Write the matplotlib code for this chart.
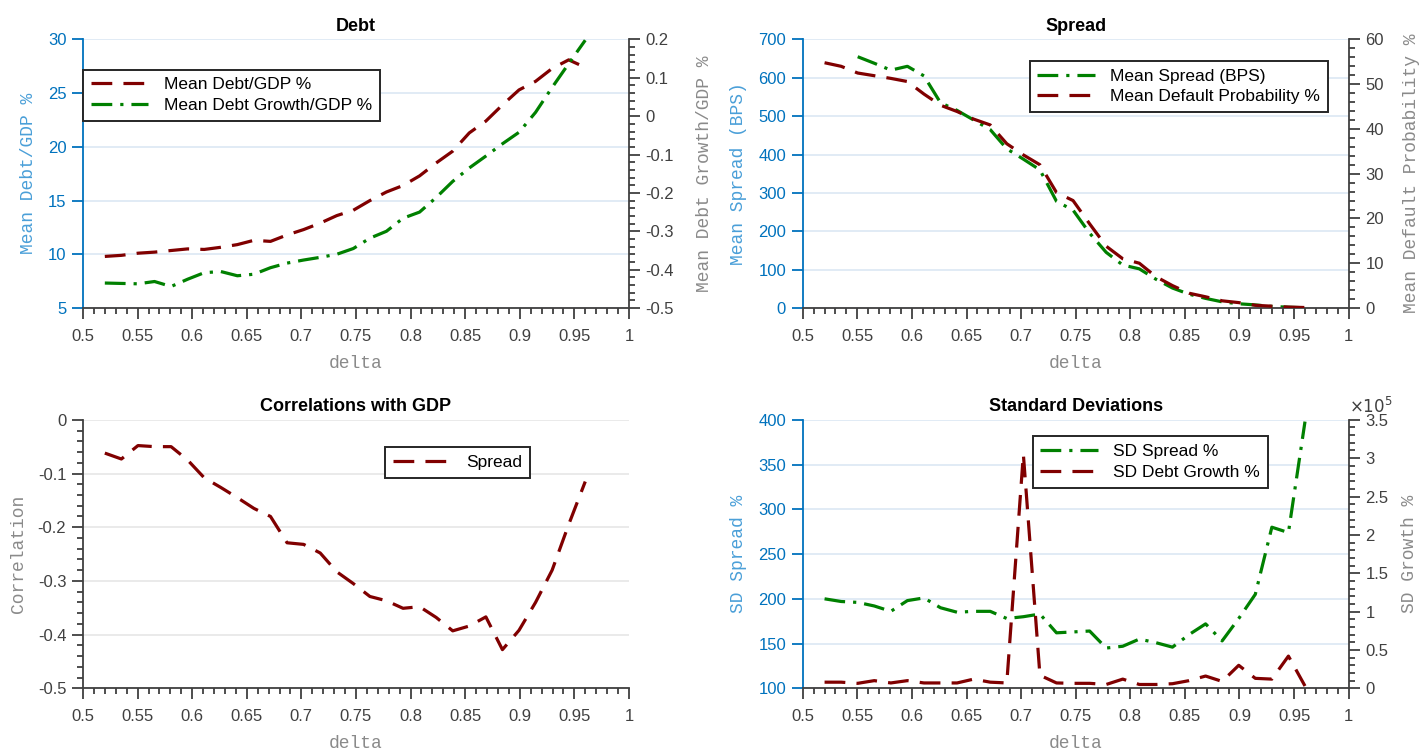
import numpy as np
import matplotlib
matplotlib.use("Agg")
import matplotlib.pyplot as plt
from matplotlib.ticker import MultipleLocator, FuncFormatter

# ---------------- data ----------------
delta = np.linspace(0.52, 0.96, 30)

mean_debt_gdp = [9.8, 9.9, 10.1, 10.2, 10.35, 10.5, 10.45, 10.65, 10.9, 11.3,
                 11.2, 11.8, 12.3, 12.9, 13.6, 14.1, 15.0, 15.8, 16.4, 17.3,
                 18.5, 19.6, 21.3, 22.4, 23.9, 25.3, 26.1, 27.3, 28.1, 27.4]
mean_debt_growth_gdp = [-0.435, -0.436, -0.437, -0.431, -0.444, -0.425, -0.408, -0.405, -0.416, -0.412,
                        -0.395, -0.383, -0.375, -0.368, -0.360, -0.345, -0.318, -0.300, -0.266, -0.250,
                        -0.212, -0.170, -0.135, -0.104, -0.072, -0.042, 0.010, 0.075, 0.137, 0.198]

mean_spread_bps = [np.nan, np.nan, 655, 638, 620, 630, 605, 535, 515, 490,
                   465, 415, 388, 360, 278, 255, 195, 145, 112, 102,
                   75, 52, 36, 25, 16, 11, 8, 4, 2, 0.5]
mean_default_prob = [54.8, 54.0, 52.5, 51.9, 51.3, 50.6, 47.8, 45.3, 43.9, 42.2,
                     40.9, 36.7, 34.2, 32.0, 25.8, 24.0, 18.8, 13.8, 11.0, 10.0,
                     7.0, 5.0, 3.3, 2.5, 1.6, 1.2, 0.6, 0.4, 0.2, 0.1]

corr_spread_gdp = [-0.062, -0.073, -0.048, -0.050, -0.050, -0.075, -0.108, -0.126, -0.145, -0.165,
                   -0.180, -0.229, -0.232, -0.248, -0.283, -0.305, -0.329, -0.337, -0.351, -0.348,
                   -0.368, -0.393, -0.384, -0.367, -0.428, -0.392, -0.340, -0.280, -0.195, -0.115]

sd_spread = [200, 197, 196, 192, 186, 198, 201, 190, 185, 186,
             186, 178, 180, 183, 162, 163, 164, 145, 147, 155,
             151, 146, 160, 172, 153, 178, 205, 280, 274, 398]
sd_debt_growth = [0.08e5, 0.08e5, 0.065e5, 0.10e5, 0.07e5, 0.10e5, 0.07e5, 0.07e5, 0.07e5, 0.12e5,
                  0.08e5, 0.07e5, 3.05e5, 0.17e5, 0.07e5, 0.065e5, 0.065e5, 0.05e5, 0.12e5, 0.05e5,
                  0.05e5, 0.06e5, 0.10e5, 0.16e5, 0.09e5, 0.30e5, 0.13e5, 0.12e5, 0.42e5, 0.03e5]

xticks = np.arange(0.5, 1.0001, 0.05)

# ---------------- style ----------------
BLUE = '#0072BD'
BLUE_LBL = '#4a9fd8'
GRAY = '#404040'
GRAY_LBL = '#8a8a8a'
RED = '#800000'
GREEN = '#008000'
GRID_BLUE = '#dce8f4'
GRID_GRAY = '#e6e6e6'
DASH = (0, (6.5, 3.5))
DASHDOT = (0, (6.5, 2.5, 1, 2.5))
LW = 2.3
TICK_FS = 12

plt.rcParams['font.family'] = ['Liberation Sans', 'DejaVu Sans']
MONO = ['Liberation Mono', 'DejaVu Sans Mono']

fig = plt.figure(figsize=(14.21, 7.53), dpi=100)

L1, L2, W = 0.0584, 0.5649, 0.3842
B1, B2, H = 0.591, 0.0859, 0.3566

fmt_g = FuncFormatter(lambda v, p: '%g' % round(v, 6))


def style_x(ax):
    ax.set_xlim(0.5, 1.0)
    ax.set_xticks(xticks)
    ax.xaxis.set_minor_locator(MultipleLocator(0.01))
    ax.xaxis.set_major_formatter(fmt_g)
    ax.tick_params(axis='x', which='major', direction='out', length=8, width=1.3,
                   colors=GRAY, labelsize=TICK_FS, pad=7)
    ax.tick_params(axis='x', which='minor', direction='out', length=4.5, width=1.3, colors=GRAY)
    ax.spines['bottom'].set_color(GRAY)
    ax.spines['bottom'].set_linewidth(1.3)
    ax.spines['top'].set_visible(False)
    ax.set_xlabel('delta', family=MONO, fontsize=13, color=GRAY_LBL, labelpad=8)


def style_left(ax, color, ylim, step, minor=None, grid_color=GRID_BLUE):
    ax.set_ylim(*ylim)
    ax.yaxis.set_major_locator(MultipleLocator(step))
    ax.yaxis.set_major_formatter(fmt_g)
    if minor:
        ax.yaxis.set_minor_locator(MultipleLocator(minor))
        ax.tick_params(axis='y', which='minor', direction='out', length=4.5, width=1.3, colors=color)
    ax.tick_params(axis='y', which='major', direction='out', length=8, width=1.3,
                   colors=color, labelsize=TICK_FS, pad=4)
    ax.spines['left'].set_color(color)
    ax.spines['left'].set_linewidth(1.3)
    ax.spines['right'].set_visible(False)
    ax.yaxis.grid(True, color=grid_color, linewidth=1.2)
    ax.set_axisbelow(True)


def style_right(ax, ylim, step, minor):
    ax.set_ylim(*ylim)
    ax.yaxis.set_major_locator(MultipleLocator(step))
    ax.yaxis.set_minor_locator(MultipleLocator(minor))
    ax.tick_params(axis='y', which='major', direction='out', length=8, width=1.3,
                   colors=GRAY, labelsize=TICK_FS, pad=4)
    ax.tick_params(axis='y', which='minor', direction='out', length=4.5, width=1.3, colors=GRAY)
    ax.spines['right'].set_color(GRAY)
    ax.spines['right'].set_linewidth(1.3)
    for s in ('left', 'top', 'bottom'):
        ax.spines[s].set_visible(False)


def make_legend(ax, handles, labels, loc, anchor):
    leg = ax.legend(handles, labels, loc=loc, bbox_to_anchor=anchor, borderaxespad=0,
                    fontsize=12.5, frameon=True, fancybox=False, framealpha=1,
                    edgecolor='#262626', handlelength=3.3, handletextpad=0.9,
                    borderpad=0.45, labelspacing=0.3)
    leg.get_frame().set_linewidth(1.4)
    return leg


# ---------------- Debt ----------------
ax = fig.add_axes([L1, B1, W, H])
l1, = ax.plot(delta, mean_debt_gdp, color=RED, lw=LW, linestyle=DASH)
style_x(ax)
style_left(ax, BLUE, (5, 30), 5)
ax.set_ylabel('Mean Debt/GDP %', family=MONO, fontsize=13, color=BLUE_LBL, labelpad=8)
ax.set_title('Debt', fontsize=13, fontweight='bold', pad=6)
axr = ax.twinx()
l2, = axr.plot(delta, mean_debt_growth_gdp, color=GREEN, lw=LW, linestyle=DASHDOT)
style_right(axr, (-0.5, 0.2), 0.1, 0.02)
axr.yaxis.set_major_formatter(fmt_g)
axr.set_ylabel('Mean Debt Growth/GDP %', family=MONO, fontsize=13, color=GRAY_LBL, labelpad=16)
make_legend(axr, [l1, l2], ['Mean Debt/GDP %', 'Mean Debt Growth/GDP %'],
            'upper left', (0.0, 0.888))

# ---------------- Spread ----------------
ax = fig.add_axes([L2, B1, W, H])
l1, = ax.plot(delta, mean_spread_bps, color=GREEN, lw=LW, linestyle=DASHDOT)
style_x(ax)
style_left(ax, BLUE, (0, 700), 100)
ax.set_ylabel('Mean Spread (BPS)', family=MONO, fontsize=13, color=BLUE_LBL, labelpad=8)
ax.set_title('Spread', fontsize=13, fontweight='bold', pad=6)
axr = ax.twinx()
l2, = axr.plot(delta, mean_default_prob, color=RED, lw=LW, linestyle=DASH)
style_right(axr, (0, 60), 10, 2)
axr.yaxis.set_major_formatter(fmt_g)
axr.set_ylabel('Mean Default Probability %', family=MONO, fontsize=13, color=GRAY_LBL, labelpad=14)
make_legend(axr, [l1, l2], ['Mean Spread (BPS)', 'Mean Default Probability %'],
            'upper right', (0.962, 0.92))

# ---------------- Correlations ----------------
ax = fig.add_axes([L1, B2, W, H])
l1, = ax.plot(delta, corr_spread_gdp, color=RED, lw=LW, linestyle=DASH)
style_x(ax)
style_left(ax, GRAY, (-0.5, 0), 0.1, minor=0.02, grid_color=GRID_GRAY)
ax.set_ylabel('Correlation', family=MONO, fontsize=13, color=GRAY_LBL, labelpad=8)
ax.set_title('Correlations with GDP', fontsize=13, fontweight='bold', pad=6)
make_legend(ax, [l1], ['Spread'], 'upper left', (0.554, 0.898))

# ---------------- Standard Deviations ----------------
ax = fig.add_axes([L2, B2, W, H])
l1, = ax.plot(delta, sd_spread, color=GREEN, lw=LW, linestyle=DASHDOT)
style_x(ax)
style_left(ax, BLUE, (100, 400), 50)
ax.set_ylabel('SD Spread %', family=MONO, fontsize=13, color=BLUE_LBL, labelpad=8)
ax.set_title('Standard Deviations', fontsize=13, fontweight='bold', pad=6)
axr = ax.twinx()
l2, = axr.plot(delta, sd_debt_growth, color=RED, lw=LW, linestyle=DASH)
style_right(axr, (0, 3.5e5), 0.5e5, 0.1e5)
axr.yaxis.set_major_formatter(FuncFormatter(lambda v, p: '%g' % round(v / 1e5, 6)))
axr.set_ylabel('SD Growth %', family=MONO, fontsize=13, color=GRAY_LBL, labelpad=9)
axr.text(1.0, 1.015, r'$\times10^5$', transform=axr.transAxes, ha='left', va='bottom',
         fontsize=12, color=GRAY)
make_legend(axr, [l1, l2], ['SD Spread %', 'SD Debt Growth %'],
            'upper left', (0.421, 0.938))

fig.savefig('out.png', dpi=100)
